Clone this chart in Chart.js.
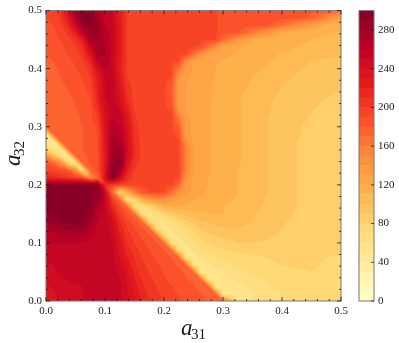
<!DOCTYPE html>
<html>
<head>
<meta charset="utf-8">
<title>a31 a32 contour</title>
<script src="https://cdn.jsdelivr.net/npm/chart.js@4/dist/chart.umd.min.js"></script>
<style>
  body { margin: 0; background: #fff; }
  canvas { position: absolute; left: 0; top: 0; }
</style>
</head>
<body>
<canvas id="mainChart" width="399" height="343"></canvas>
<canvas id="colorBar" width="399" height="343"></canvas>
<script>
const xs = [0, 0.0125, 0.025, 0.0375, 0.05, 0.0625, 0.075, 0.0875, 0.1, 0.1125, 0.125, 0.1375, 0.15, 0.1625, 0.175, 0.1875, 0.2,
  0.2125, 0.225, 0.2375, 0.25, 0.2625, 0.275, 0.2875, 0.3, 0.325, 0.35, 0.375, 0.4, 0.425, 0.45, 0.475, 0.5];
const ys = [0.5, 0.4875, 0.475, 0.4625, 0.45, 0.4375, 0.425, 0.4125, 0.4, 0.3875, 0.375, 0.3625, 0.35, 0.3375, 0.325, 0.3125,
  0.3, 0.2875, 0.275, 0.2625, 0.25, 0.2375, 0.225, 0.2125, 0.2,
  0.1875, 0.175, 0.1625, 0.15, 0.1375, 0.125, 0.1125, 0.1, 0.0875, 0.075, 0.0625, 0.05, 0.0375, 0.025, 0.0125, 0];

// one row per entry of ys, one value per entry of xs
const zRows = [
  [192,194,208,243,285,298,290,268,256, 252,225,200,194,193,192,192,192, 192,192,192,192,192,192,192,184, 184,184,184,183,182,181,180,172],
  [190,192,202,228,268,293,295,276,258, 253,226,200,194,193,192,192,192, 192,192,192,192,192,192,192,184, 184,184,184,184,184,178,153,129],
  [188,190,197,215,247,282,293,282,260, 254,228,200,194,193,192,192,192, 192,192,192,192,192,192,192,184, 184,184,184,169,151,134,118,114],
  [186,188,194,203,222,262,285,284,265, 254,228,200,194,193,192,192,192, 192,192,192,192,192,192,192,184, 184,164,143,120,116,113,111,109],
  [184,186,190,196,205,228,272,282,268, 254,228,200,194,193,192,192,192, 192,192,192,192,192,192,192,172, 144,119,116,114,112,110,108,106],
  [182,184,188,193,199,212,252,276,272, 254,228,200,194,193,192,192,192, 192,192,192,192,188,167,150,128, 121,118,115,113,110,108,105,103],
  [180,182,186,190,195,203,232,272,272, 254,228,200,194,193,192,192,192, 192,192,192,169,144,127,124,123, 119,116,113,109,107,105,103,101],
  [178,180,184,187,192,198,215,260,268, 254,226,200,194,193,192,192,192, 192,192,150,130,127,124,121,119, 116,113,111,107,103,100,98,97],
  [176,178,182,185,189,194,205,240,262, 255,222,200,194,193,192,192,192, 192,162,135,129,126,123,120,118, 115,112,109,105,101,98,96,95],
  [175,177,180,183,187,191,199,228,253, 255,226,200,194,193,192,192,192, 192,143,132,128,125,122,120,118, 114,110,107,103,99,97,94,93],
  [174,176,179,182,185,189,195,222,250, 256,232,204,194,193,192,192,192, 185,136,130,127,124,121,119,117, 113,109,104,101,97,95,92,91],
  [174,175,177,180,183,187,192,220,250, 256,236,208,195,193,192,192,192, 179,135,130,127,124,121,119,117, 112,108,103,99,96,93,91,90],
  [174,175,176,178,181,185,190,218,250, 256,240,212,196,193,192,192,192, 181,136,130,127,124,121,119,117, 111,107,102,98,95,92,90,89],
  [173,174,175,177,180,183,188,212,245, 256,246,218,198,193,192,192,192, 185,135,130,127,124,121,118,117, 111,106,101,97,94,91,89,88],
  [173,174,175,176,179,182,186,205,240, 256,252,228,200,193,192,192,192, 192,149,130,127,124,121,118,116, 111,106,101,97,93,90,88,87],
  [172,173,174,176,178,181,185,200,236, 260,256,234,203,194,192,192,192, 192,166,136,127,124,121,118,116, 111,106,100,96,92,89,87,86],
  [170,172,174,176,178,180,184,194,235, 266,262,238,206,195,192,192,192, 192,178,136,127,124,121,118,116, 111,106,100,96,91,88,87,86],
  [55,170,174,176,178,180,184,190,232, 270,268,242,208,196,192,192,192, 192,187,135,127,124,121,118,116, 111,106,100,95,91,88,87,86],
  [55,52,170,175,178,180,184,190,230, 272,274,244,210,196,192,192,192, 192,192,145,128,124,121,118,116, 111,106,100,95,90,88,87,86],
  [75,58,52,170,176,180,184,190,228, 276,282,246,212,197,192,192,192, 192,192,156,130,125,121,118,116, 111,106,100,95,90,88,87,86],
  [150,105,66,53,170,178,184,190,226, 278,290,246,212,197,192,192,192, 192,192,156,130,125,121,118,116, 111,106,100,95,90,88,87,86],
  [185,176,150,85,55,170,182,190,226, 285,296,235,205,195,192,192,192, 192,192,156,130,125,121,118,116, 111,106,100,95,90,88,87,86],
  [198,195,188,182,150,66,170,188,228, 296,280,222,200,194,192,192,192, 192,192,156,130,125,121,118,116, 110,105,100,95,90,88,87,86],
  [218,214,210,204,198,188,150,170,235, 298,250,210,196,193,192,192,192, 192,192,143,128,124,120,118,115, 110,105,100,95,90,88,87,86],
  [292,292,292,292,292,292,292,292,215, 198,194,193,192,192,192,192,192, 192,174,136,127,123,120,117,115, 110,105,100,95,90,88,87,86],
  [292,292,292,292,292,292,292,288,250, 172,80,120,160,185,190,192,190, 170,145,134,127,122,119,116,114, 110,105,100,95,90,88,87,86],
  [292,292,292,292,292,292,292,285,258, 200,172,60,80,115,135,145,148, 135,128,124,121,118,116,114,112, 109,104,99,94,90,88,87,86],
  [292,292,292,292,292,292,291,272,256, 215,190,172,58,65,78,95,112, 118,118,117,115,113,112,111,110, 107,103,98,94,90,88,87,86],
  [291,292,292,292,292,292,288,263,255, 233,200,186,172,62,58,66,78, 90,98,103,107,109,110,110,110, 106,101,97,93,89,88,87,86],
  [280,285,291,292,292,292,278,260,255, 243,210,195,184,172,65,58,60, 70,80,88,95,100,101,103,104, 103,100,95,91,88,87,86,86],
  [272,275,279,283,285,283,268,257,254, 247,217,200,190,182,172,65,58, 60,66,75,84,92,95,97,99, 100,98,94,90,88,87,86,86],
  [264,266,268,270,270,268,262,256,254, 249,226,205,196,187,181,172,65, 58,60,66,74,84,87,90,92, 93,93,91,89,87,86,86,85],
  [259,260,260,260,260,259,257,255,254, 250,232,210,200,194,185,181,172, 65,57,60,66,76,80,83,86, 90,90,89,87,86,85,85,83],
  [256,257,257,257,257,256,256,255,254, 252,236,216,204,197,190,184,180, 172,64,57,60,68,72,76,79, 81,84,85,85,84,84,84,81],
  [252,253,254,255,255,255,255,255,254, 252,240,222,210,200,195,188,183, 180,172,62,56,61,65,69,72, 75,78,80,82,83,82,80,79],
  [248,250,251,252,253,254,255,255,255, 253,245,229,212,202,197,192,186, 182,179,172,60,56,58,62,66, 71,75,78,80,81,81,79,78],
  [247,249,251,252,252,253,254,254,255, 254,248,233,217,205,200,195,189, 185,182,179,172,52,54,58,60, 66,71,75,78,79,80,78,77],
  [244,246,249,251,251,252,252,253,254, 254,250,237,221,210,202,197,192, 187,184,181,178,172,58,52,55, 62,67,71,75,77,78,77,76],
  [238,241,244,247,249,250,251,252,253, 255,252,240,226,213,205,200,196, 191,187,183,181,178,172,56,50, 56,63,68,72,75,76,76,76],
  [236,239,242,245,248,250,251,252,253, 255,253,242,229,216,208,201,198, 193,189,185,182,180,178,172,55, 50,59,65,70,73,75,75,75],
  [234,238,241,244,247,250,251,252,253, 255,254,245,233,221,211,204,200, 195,192,188,185,182,180,178,172, 55,61,66,70,73,74,75,75]
];

const levels = [0, 10, 20, 30, 40, 50, 60, 70, 80, 90, 100, 110, 120, 130, 140, 150, 160, 170, 180, 190, 200, 210, 220, 230, 240, 250, 260, 270, 280, 290, 300];
const majorTicks = [0, 0.1, 0.2, 0.3, 0.4, 0.5];
const minorTicks = [0.02, 0.04, 0.06, 0.08, 0.12, 0.14, 0.16, 0.18, 0.22, 0.24, 0.26, 0.28, 0.32, 0.34, 0.36, 0.38, 0.42, 0.44, 0.46, 0.48];
const colorBarTicks = [0, 40, 80, 120, 160, 200, 240, 280];

const ylOrRd = [[255,255,204],[255,237,160],[254,217,118],[254,178,76],[253,141,60],[252,78,42],[227,26,28],[189,0,38],[128,0,38]];
const FONT = '"Liberation Serif", serif';
const INK = "#1a1a1a";
const SPINE = "#7d7570";
// below this line x + y the cells are split along their anti-diagonal, so the sharp edges stay straight
const SEAM = 0.3;

function cmap(t) {
  const p = Math.min(Math.max(t, 0), 1) * (ylOrRd.length - 1);
  const i = Math.min(Math.floor(p), ylOrRd.length - 2);
  const f = p - i;
  return ylOrRd[i].map((c, k) => Math.round(c + (ylOrRd[i + 1][k] - c) * f));
}

// colour of the filled band a value falls in
function bandColor(z) {
  const top = levels[levels.length - 1];
  const step = levels[1] - levels[0];
  const band = Math.min(Math.floor(z / step), levels.length - 2);
  return cmap((band + 0.5) * step / top);
}

function findCell(list, value) {
  // list may run either way, returns index i with value between list[i] and list[i + 1]
  let i = 0;
  const up = list[1] > list[0];
  while (i < list.length - 2 && (up ? value > list[i + 1] : value < list[i + 1])) {
    i += 1;
  }
  return i;
}

function sampleGrid(x, y) {
  const i = findCell(xs, x);
  const j = findCell(ys, y);
  const u = (x - xs[i]) / (xs[i + 1] - xs[i]);
  const v = (y - ys[j + 1]) / (ys[j] - ys[j + 1]);
  const z00 = zRows[j + 1][i];
  const z10 = zRows[j + 1][i + 1];
  const z01 = zRows[j][i];
  const z11 = zRows[j][i + 1];
  if (xs[i] + ys[j + 1] > SEAM - 0.005) {
    return z00 * (1 - u) * (1 - v) + z10 * u * (1 - v) + z01 * (1 - u) * v + z11 * u * v;
  }
  if (u + v <= 1) {
    return z00 + u * (z10 - z00) + v * (z01 - z00);
  }
  return z11 + (1 - u) * (z01 - z11) + (1 - v) * (z10 - z11);
}

const contourFill = {
  id: "contourFill",
  beforeDatasetsDraw(chart) {
    const { ctx, chartArea, scales } = chart;
    const scale = 3;
    const w = Math.round(chartArea.width * scale);
    const h = Math.round(chartArea.height * scale);
    const off = document.createElement("canvas");
    off.width = w;
    off.height = h;
    const offCtx = off.getContext("2d");
    const image = offCtx.createImageData(w, h);
    for (let py = 0; py < h; py++) {
      const y = scales.y.getValueForPixel(chartArea.top + (py + 0.5) / scale);
      for (let px = 0; px < w; px++) {
        const x = scales.x.getValueForPixel(chartArea.left + (px + 0.5) / scale);
        const c = bandColor(sampleGrid(x, y));
        const at = (py * w + px) * 4;
        image.data[at] = c[0];
        image.data[at + 1] = c[1];
        image.data[at + 2] = c[2];
        image.data[at + 3] = 255;
      }
    }
    offCtx.putImageData(image, 0, 0);
    ctx.save();
    ctx.imageSmoothingEnabled = true;
    ctx.imageSmoothingQuality = "high";
    ctx.drawImage(off, chartArea.left, chartArea.top, chartArea.width, chartArea.height);
    ctx.restore();
  }
};

function drawInwardTicks(ctx, area, xScale, yScale, values, length) {
  values.forEach((value) => {
    const px = xScale.getPixelForValue(value);
    const py = yScale.getPixelForValue(value);
    ctx.moveTo(px, area.bottom);
    ctx.lineTo(px, area.bottom - length);
    ctx.moveTo(px, area.top);
    ctx.lineTo(px, area.top + length);
    ctx.moveTo(area.left, py);
    ctx.lineTo(area.left + length, py);
    ctx.moveTo(area.right, py);
    ctx.lineTo(area.right - length, py);
  });
}

const frameAndLabels = {
  id: "frameAndLabels",
  afterDraw(chart) {
    const { ctx, chartArea: area, scales } = chart;
    ctx.save();
    ctx.strokeStyle = SPINE;
    ctx.lineWidth = 1;
    ctx.strokeRect(area.left, area.top, area.width, area.height);
    ctx.strokeStyle = INK;
    ctx.lineWidth = 0.8;
    ctx.beginPath();
    drawInwardTicks(ctx, area, scales.x, scales.y, majorTicks, 4);
    drawInwardTicks(ctx, area, scales.x, scales.y, minorTicks, 2);
    ctx.stroke();

    // axis names, a with a smaller index below the baseline
    ctx.fillStyle = INK;
    ctx.textBaseline = "alphabetic";
    ctx.textAlign = "left";
    ctx.font = `italic 23px ${FONT}`;
    ctx.fillText("a", 181, 335);
    ctx.font = `15px ${FONT}`;
    ctx.fillText("31", 191, 339);
    ctx.translate(20, 166);
    ctx.rotate(-Math.PI / 2);
    ctx.font = `italic 23px ${FONT}`;
    ctx.fillText("a", 0, 0);
    ctx.font = `15px ${FONT}`;
    ctx.fillText("32", 10, 4);
    ctx.restore();
  }
};

new Chart(document.getElementById("mainChart"), {
  type: "scatter",
  data: {
    datasets: [{
      label: "z",
      data: ys.flatMap((y, j) => xs.map((x, i) => ({ x, y, z: zRows[j][i] }))),
      pointRadius: 0,
      showLine: false
    }]
  },
  options: {
    responsive: false,
    animation: false,
    layout: { padding: { top: 8, right: 58, left: 0, bottom: 0 } },
    plugins: { legend: { display: false }, tooltip: { enabled: false } },
    scales: {
      x: {
        type: "linear",
        min: 0,
        max: 0.5,
        grid: { display: false, drawTicks: false },
        border: { display: false },
        afterFit: (scale) => { scale.height = 42; },
        ticks: {
          stepSize: 0.1,
          padding: 4,
          maxRotation: 0,
          color: INK,
          font: { family: FONT, size: 11 },
          callback: (value) => value.toFixed(1)
        }
      },
      y: {
        type: "linear",
        min: 0,
        max: 0.5,
        grid: { display: false, drawTicks: false },
        border: { display: false },
        afterFit: (scale) => { scale.width = 46; },
        ticks: {
          stepSize: 0.1,
          padding: 4,
          color: INK,
          font: { family: FONT, size: 11 },
          callback: (value) => value.toFixed(1)
        }
      }
    }
  },
  plugins: [contourFill, frameAndLabels]
});

const colorBarFrame = {
  id: "colorBarFrame",
  afterDraw(chart) {
    const { ctx, chartArea: area, scales } = chart;
    ctx.save();
    ctx.strokeStyle = SPINE;
    ctx.lineWidth = 1;
    ctx.strokeRect(area.left, area.top, area.width, area.height);
    ctx.strokeStyle = INK;
    ctx.lineWidth = 0.8;
    ctx.beginPath();
    colorBarTicks.forEach((value) => {
      const py = scales.y.getPixelForValue(value);
      ctx.moveTo(area.right, py);
      ctx.lineTo(area.right - 3, py);
    });
    ctx.stroke();
    ctx.restore();
  }
};

new Chart(document.getElementById("colorBar"), {
  type: "bar",
  data: {
    labels: ["z"],
    datasets: levels.slice(0, -1).map((level, k) => {
      const c = bandColor(level);
      return {
        label: `${level}`,
        data: [[level, levels[k + 1]]],
        backgroundColor: `rgb(${c[0]},${c[1]},${c[2]})`,
        borderWidth: 0,
        barPercentage: 1,
        categoryPercentage: 1
      };
    })
  },
  options: {
    responsive: false,
    animation: false,
    layout: { padding: { top: 8, right: 0, left: 359, bottom: 42 } },
    plugins: { legend: { display: false }, tooltip: { enabled: false } },
    scales: {
      x: { display: false, stacked: true },
      y: {
        position: "right",
        min: 0,
        max: 300,
        stacked: false,
        grid: { display: false, drawTicks: false },
        border: { display: false },
        afterFit: (scale) => { scale.width = 25; },
        ticks: {
          stepSize: 40,
          includeBounds: false,
          padding: 4,
          color: INK,
          font: { family: FONT, size: 11 }
        }
      }
    }
  },
  plugins: [colorBarFrame]
});
</script>
</body>
</html>
